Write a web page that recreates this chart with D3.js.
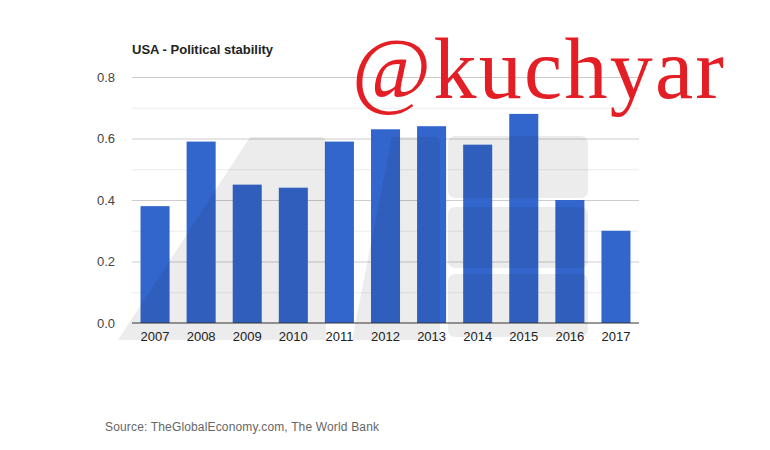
<!DOCTYPE html>
<meta charset="utf-8">
<style>
body { margin: 0; background: #fff; }
.grid line { stroke: #cccccc; }
.grid.minor line { stroke: #ebebeb; }
.grid path { display: none; }
</style>
<svg width="770" height="450"></svg>
<script src="https://d3js.org/d3.v7.min.js"></script>
<script>
var years = ["2007", "2008", "2009", "2010", "2011", "2012", "2013", "2014", "2015", "2016", "2017"];
var values = [0.38, 0.59, 0.45, 0.44, 0.59, 0.63, 0.64, 0.58, 0.68, 0.40, 0.30];
var yTicks = [0, 0.2, 0.4, 0.6, 0.8];
var yMinorTicks = [0.1, 0.3, 0.5, 0.7];
var title = "USA - Political stability";
var source = "Source: TheGlobalEconomy.com, The World Bank";
var stamp = "@kuchyar";

var sans = "'Liberation Sans', Arial, sans-serif";
var svg = d3.select("svg"),
    plotLeft = 132, plotRight = 639, plotTop = 77, plotBottom = 323;

var x = d3.scaleBand()
    .domain(years)
    .range([plotLeft, plotRight])
    .paddingInner(0.37)
    .paddingOuter(0.185);

var y = d3.scaleLinear()
    .domain([0, 0.8])
    .range([plotBottom, plotTop]);

// minor + major gridlines
svg.append("g")
    .attr("class", "grid minor")
    .attr("transform", "translate(" + plotLeft + ",0)")
    .call(d3.axisLeft(y).tickValues(yMinorTicks).tickSize(-(plotRight - plotLeft)).tickFormat(""));
svg.append("g")
    .attr("class", "grid")
    .attr("transform", "translate(" + plotLeft + ",0)")
    .call(d3.axisLeft(y).tickValues(yTicks.slice(1)).tickSize(-(plotRight - plotLeft)).tickFormat(""));

// bars
svg.append("g")
  .selectAll("rect")
  .data(values)
  .enter().append("rect")
    .attr("x", function(d, i) { return x(years[i]); })
    .attr("y", function(d) { return y(d); })
    .attr("width", x.bandwidth())
    .attr("height", function(d) { return y(0) - y(d); })
    .attr("fill", "#3366cc");

// faint logo watermark over the plot
var wm = svg.append("g").attr("fill", "#000").attr("fill-opacity", 0.075);
wm.append("path")
    .attr("d", "M118,340 L250,137 L320,137 Q326,137 326,143 L326,340 Z");
wm.append("path")
    .attr("d", "M352,340 L392,137 L434,137 Q440,137 440,143 L440,340 Z");
[[136, 198], [207, 268], [274, 337]].forEach(function(r) {
  wm.append("rect")
      .attr("x", 448).attr("y", r[0])
      .attr("width", 140).attr("height", r[1] - r[0])
      .attr("rx", 7);
});

// baseline
svg.append("line")
    .attr("x1", plotLeft).attr("x2", plotRight)
    .attr("y1", y(0)).attr("y2", y(0))
    .attr("stroke", "#333").attr("stroke-width", 1.2);

// y labels
var yAxis = svg.append("g")
    .attr("transform", "translate(" + (plotLeft - 14) + ",0)")
    .call(d3.axisLeft(y).tickValues(yTicks).tickSize(0).tickFormat(d3.format(".1f")));
yAxis.select(".domain").remove();
yAxis.selectAll("text")
    .style("font-family", sans)
    .style("font-size", "13px")
    .attr("fill", "#444");

// x labels
var xAxis = svg.append("g")
    .attr("transform", "translate(0," + (plotBottom + 6) + ")")
    .call(d3.axisBottom(x).tickSize(0));
xAxis.select(".domain").remove();
xAxis.selectAll("text")
    .style("font-family", sans)
    .style("font-size", "13px")
    .attr("fill", "#222");

svg.append("text")
    .attr("x", plotLeft)
    .attr("y", 54)
    .style("font-family", sans)
    .style("font-size", "13px")
    .style("font-weight", "bold")
    .attr("fill", "#222")
    .text(title);

svg.append("text")
    .attr("x", 105)
    .attr("y", 431)
    .style("font-family", sans)
    .style("font-size", "12px")
    .attr("fill", "#666")
    .attr("textLength", 274)
    .attr("lengthAdjust", "spacing")
    .text(source);

svg.append("text")
    .attr("x", 352)
    .attr("y", 98)
    .style("font-family", "'Liberation Serif', 'DejaVu Serif', serif")
    .style("font-size", "86px")
    .attr("fill", "#e31e24")
    .attr("textLength", 372)
    .attr("lengthAdjust", "spacing")
    .text(stamp);
</script>
